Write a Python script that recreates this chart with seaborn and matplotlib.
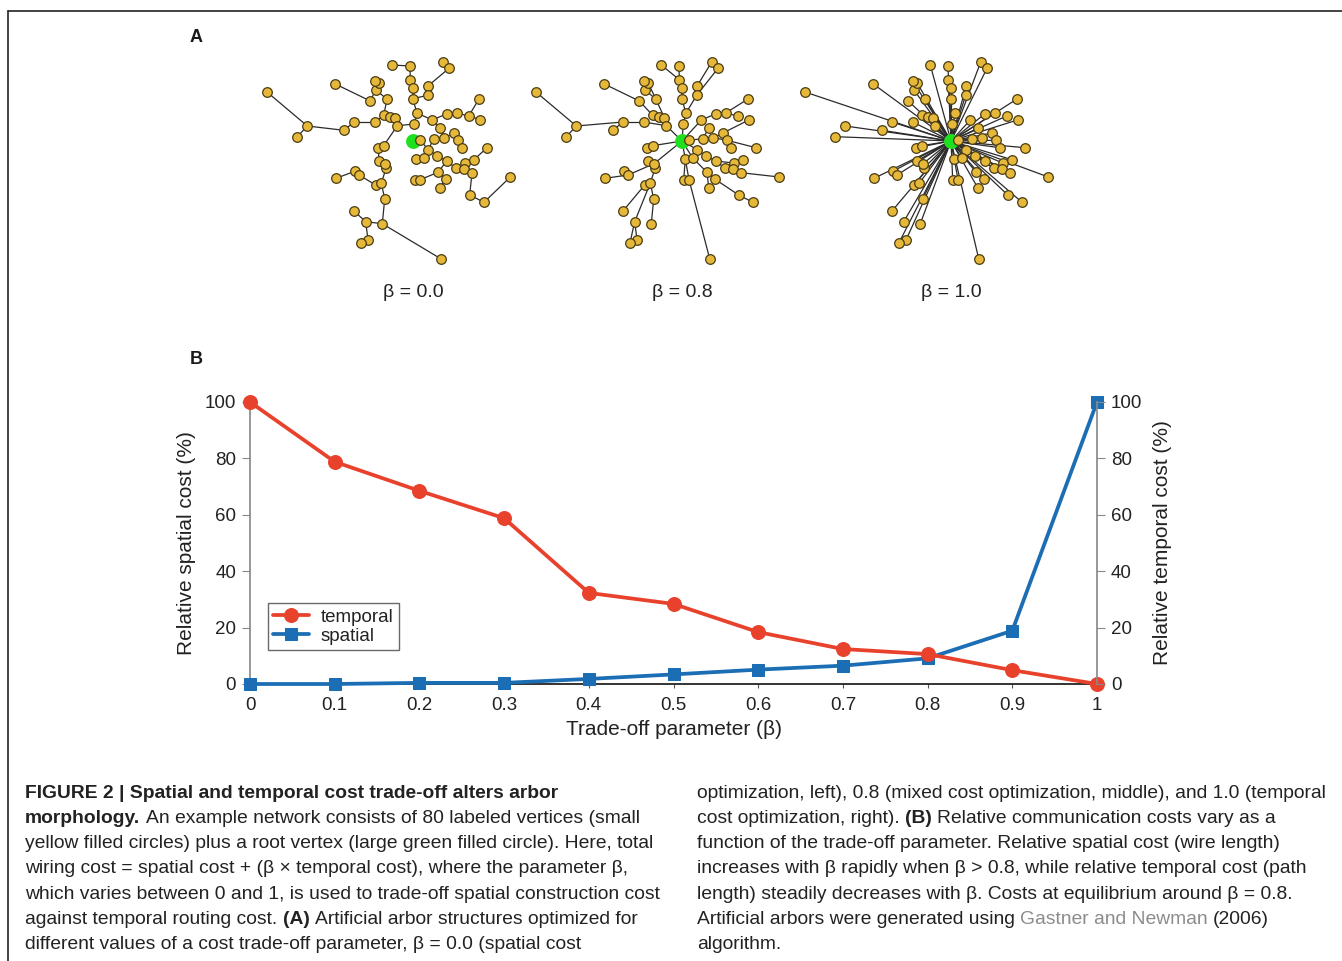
import numpy as np
import matplotlib
matplotlib.use("Agg")
import matplotlib.pyplot as plt
import seaborn as sns
from matplotlib.collections import LineCollection
from matplotlib.lines import Line2D

W, H = 1342, 961

# ---- panel B data ----
BETA = [0.0, 0.1, 0.2, 0.3, 0.4, 0.5, 0.6, 0.7, 0.8, 0.9, 1.0]
TEMPORAL = [100, 78.8, 68.5, 58.8, 32.3, 28.4, 18.4, 12.4, 10.6, 4.9, 0]
SPATIAL = [0, 0, 0.4, 0.4, 1.8, 3.4, 5.1, 6.5, 9.1, 18.9, 100]
X_TICKS = [0, 0.1, 0.2, 0.3, 0.4, 0.5, 0.6, 0.7, 0.8, 0.9, 1]
X_TICKLABELS = ["0", "0.1", "0.2", "0.3", "0.4", "0.5", "0.6", "0.7", "0.8", "0.9", "1"]
Y_TICKS = [0, 20, 40, 60, 80, 100]

# ---- panel A data: vertex offsets from the root (pixels, y pointing down) ----
NODE_DX = [-146, -105.7, -115.7, -77.7, -69, -59, -38.3, -42.7, -37.3, -34, -38.3,
           -26, -29.3, -23.3, -17.7, -15.7, -20.7, -3, -2.7, 0, -0.3, 4, 1.3,
           15.3, 14.7, 29.7, 36, 19.3, 26.7, 34, 43.7, 55.7, 66, 67.3, 7.3,
           20.7, 31.3, 41, 45, 48.7, 15.3, 23.7, 33.7, 42.7, 51.7, 50.7, 61,
           74, 59, 3.3, 10.7, 1.7, 7, 25, 32.7, 26.7, 56.7, 71, 97.3, -34.7,
           -29.3, -34, -26.7, -28, -58.3, -54, -77, -37.3, -31.7, -28.3, -59,
           -47.3, -30.7, -45, -52, 27.7]
NODE_DY = [-49, -15, -4.3, -57, -10.7, -19, -19, -40, -51.3, -58.3, -59.7,
           -41.7, -25.7, -24, -23.3, -15.3, -76, -75, -61.3, -53.3, -42.3, -28,
           -17, -55.3, -45.7, -79, -72.7, -21, -12.7, -27.3, -28, -25, -42,
           -21.3, -0.7, -2.3, -3.3, -8, -0.7, 6.7, 8.7, 14.7, 20, 27, 22, 28,
           18.7, 6.7, 31.7, 18, 17, 38.7, 38.7, 31.3, 38, 46.7, 54, 61.3, 36,
           6.7, 4.7, 20, 26.7, 22.7, 30.3, 34, 37.3, 44, 42, 58, 70, 80.7, 82.7,
           99, 101.7, 117.7]
TREE_BETAS = [0.0, 0.8, 1.0]
TREE_LABELS = ["\u03b2 = 0.0", "\u03b2 = 0.8", "\u03b2 = 1.0"]
ROOT_X_PX = [413, 682, 951]
ROOT_Y_PX = 141

CAPTION_LEFT = [
    [("FIGURE 2 | Spatial and temporal cost trade-off alters arbor", "bold", "k")],
    [("morphology.", "bold", "k"),
     ("An example network consists of 80 labeled vertices (small", "normal", "k")],
    [("yellow filled circles) plus a root vertex (large green filled circle). Here, total", "normal", "k")],
    [("wiring cost = spatial cost + (\u03b2 \u00d7 temporal cost), where the parameter \u03b2,", "normal", "k")],
    [("which varies between 0 and 1, is used to trade-off spatial construction cost", "normal", "k")],
    [("against temporal routing cost.", "normal", "k"), ("(A)", "bold", "k"),
     ("Artificial arbor structures optimized for", "normal", "k")],
    [("different values of a cost trade-off parameter, \u03b2 = 0.0 (spatial cost", "normal", "k")],
]
CAPTION_RIGHT = [
    [("optimization, left), 0.8 (mixed cost optimization, middle), and 1.0 (temporal", "normal", "k")],
    [("cost optimization, right).", "normal", "k"), ("(B)", "bold", "k"),
     ("Relative communication costs vary as a", "normal", "k")],
    [("function of the trade-off parameter. Relative spatial cost (wire length)", "normal", "k")],
    [("increases with \u03b2 rapidly when \u03b2 > 0.8, while relative temporal cost (path", "normal", "k")],
    [("length) steadily decreases with \u03b2. Costs at equilibrium around \u03b2 = 0.8.", "normal", "k")],
    [("Artificial arbors were generated using", "normal", "k"),
     ("Gastner and Newman", "normal", "gray"), ("(2006)", "normal", "k")],
    [("algorithm.", "normal", "k")],
]

RED = "#e8412c"
BLUE = "#1b6db4"
NODE_YELLOW = "#e6b83a"
NODE_EDGE = "#4a3c14"
ROOT_GREEN = "#1fe01f"
TEXT = "#222222"
FONT = "Liberation Sans"


def grow_tree(dx, dy, beta):
    # greedy growth: a vertex joins the tree vertex j minimising d_ij + beta * path(j -> root)
    pts = np.vstack([[0.0, 0.0], np.column_stack([dx, dy])])
    d = np.hypot(pts[:, None, 0] - pts[None, :, 0], pts[:, None, 1] - pts[None, :, 1])
    inside = [0]
    path = np.zeros(len(pts))
    remaining = list(range(1, len(pts)))
    edges = []
    while remaining:
        rem = np.array(remaining)
        ins = np.array(inside)
        cost = d[np.ix_(rem, ins)] + beta * path[ins][None, :]
        a, b = np.unravel_index(np.argmin(cost), cost.shape)
        i, j = rem[a], ins[b]
        path[i] = path[j] + d[i, j]
        edges.append([pts[j], pts[i]])
        inside.append(i)
        remaining.remove(i)
    return edges


sns.set_theme(style="white")
plt.rcParams["font.family"] = [FONT, "DejaVu Sans"]

fig = plt.figure(figsize=(W / 100, H / 100), dpi=100)

# frame lines
fig.add_artist(Line2D([8 / W, 1], [1 - 11 / H, 1 - 11 / H], color="#222222", lw=1.2,
                      transform=fig.transFigure))
fig.add_artist(Line2D([8 / W, 8 / W], [1 - 11 / H, 0], color="#222222", lw=1.2,
                      transform=fig.transFigure))

# ---- panel A ----
half_w, top_px, bot_px = 160, 50, 270
for rx, b, lab in zip(ROOT_X_PX, TREE_BETAS, TREE_LABELS):
    ax = fig.add_axes([(rx - half_w) / W, 1 - bot_px / H, 2 * half_w / W, (bot_px - top_px) / H])
    ax.set_xlim(-half_w, half_w)
    ax.set_ylim(bot_px - ROOT_Y_PX, -(ROOT_Y_PX - top_px))
    ax.axis("off")
    ax.patch.set_alpha(0)
    ax.add_collection(LineCollection(grow_tree(NODE_DX, NODE_DY, b), colors="#2b2b2b",
                                     linewidths=0.9, zorder=1))
    sns.scatterplot(x=NODE_DX, y=NODE_DY, s=48, color=NODE_YELLOW, edgecolor=NODE_EDGE,
                    linewidth=0.9, ax=ax, zorder=3, legend=False)
    sns.scatterplot(x=[0], y=[0], s=115, color=ROOT_GREEN, edgecolor=ROOT_GREEN,
                    linewidth=0, ax=ax, zorder=2, legend=False)
    fig.text(rx / W, 1 - 293 / H, lab, ha="center", va="center", fontsize=14, color=TEXT)

fig.text(196 / W, 1 - 38 / H, "A", ha="center", va="center", fontsize=13,
         fontweight="bold", color="k")
fig.text(196 / W, 1 - 359 / H, "B", ha="center", va="center", fontsize=13,
         fontweight="bold", color="k")

# ---- panel B ----
axb = fig.add_axes([250 / W, 1 - 684 / H, (1097 - 250) / W, (684 - 402) / H])
axb.patch.set_alpha(0)
sns.lineplot(x=BETA, y=TEMPORAL, ax=axb, color=RED, lw=2.7, marker="o", markersize=10,
             markeredgecolor=RED, label="temporal", clip_on=False, zorder=4)
sns.lineplot(x=BETA, y=SPATIAL, ax=axb, color=BLUE, lw=2.7, marker="s", markersize=8,
             markeredgecolor=BLUE, label="spatial", clip_on=False, zorder=3)
axb.set_xlim(0, 1)
axb.set_ylim(0, 100)
axb.set_xticks(X_TICKS)
axb.set_xticklabels(X_TICKLABELS)
axb.set_yticks(Y_TICKS)
axb.tick_params(axis="x", length=3, width=0.8, color="#555555", labelsize=13.5,
                labelcolor=TEXT, pad=6, direction="out", bottom=True)
axb.tick_params(axis="y", length=6, width=0.8, color="#888888", labelsize=13.5,
                labelcolor=TEXT, pad=4, direction="out", left=True)
axb.spines["top"].set_visible(False)
axb.spines["left"].set_color("#8a8a8a")
axb.spines["right"].set_visible(False)
axb.spines["bottom"].set_color("#111111")
axb.spines["bottom"].set_linewidth(1.2)
axb.set_xlabel("Trade-off parameter (\u03b2)", fontsize=15, color=TEXT, labelpad=5)
axb.set_ylabel("Relative spatial cost (%)", fontsize=15, color=TEXT, labelpad=6)

axr = axb.twinx()
axr.set_ylim(0, 100)
axr.set_yticks(Y_TICKS)
axr.tick_params(axis="y", length=6, width=0.8, color="#888888", labelsize=13.5,
                labelcolor=TEXT, pad=4, direction="out", right=True)
for s in ["top", "left", "bottom"]:
    axr.spines[s].set_visible(False)
axr.spines["right"].set_color("#8a8a8a")
axr.set_ylabel("Relative temporal cost (%)", fontsize=15, color=TEXT, labelpad=8)

leg = axb.legend(loc="upper left", bbox_to_anchor=(0.021, 0.287), borderaxespad=0,
                 fontsize=13.5, frameon=True, fancybox=False, handlelength=1.9,
                 handletextpad=0.6, borderpad=0.3, labelspacing=0.1)
leg.get_frame().set_edgecolor("#444444")
leg.get_frame().set_linewidth(1.0)
for t in leg.get_texts():
    t.set_color(TEXT)

# ---- caption ----
renderer = fig.canvas.get_renderer()
CAP_FS = 13.9


def text_width(s, weight="normal"):
    t = fig.text(0, 0, s, fontsize=CAP_FS, fontweight=weight)
    w = t.get_window_extent(renderer).width
    t.remove()
    return w


space_w = text_width("a a") - text_width("aa")


def draw_line(x_px, y_px, segments):
    x = x_px
    for text, weight, color in segments:
        col = "#8c8c8c" if color == "gray" else TEXT
        t = fig.text(x / W, 1 - y_px / H, text, fontsize=CAP_FS, fontweight=weight,
                     color=col, ha="left", va="center")
        x += t.get_window_extent(renderer).width + space_w


for k, line in enumerate(CAPTION_LEFT):
    draw_line(25, 793 + 25.3 * k, line)
for k, line in enumerate(CAPTION_RIGHT):
    draw_line(697, 793 + 25.3 * k, line)

fig.savefig("out.png", dpi=100)
